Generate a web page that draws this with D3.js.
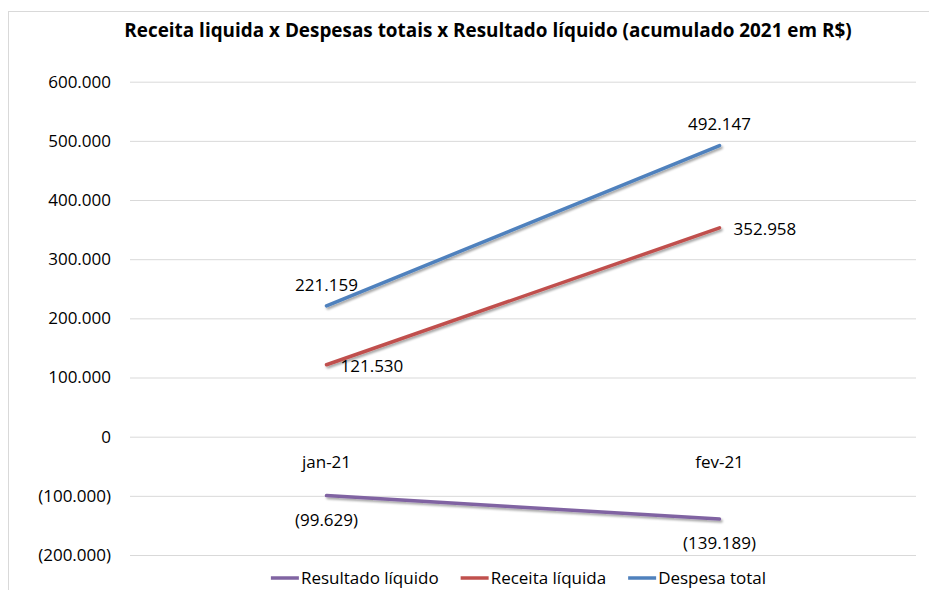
<!DOCTYPE html>
<html>
<head>
<meta charset="utf-8">
<script src="https://cdn.jsdelivr.net/npm/d3@7"></script>
<style>
  body { margin: 0; background: #fff; }
  svg { display: block; font-family: "Open Sans", sans-serif; }
</style>
</head>
<body>
<svg id="chart" width="929" height="590"></svg>
<script>
// data
const categories = ['jan-21', 'fev-21'];
const resultadoLiquido = [-99629, -139189];
const receitaLiquida = [121530, 352958];
const despesaTotal = [221159, 492147];
const yTickValues = [-200000, -100000, 0, 100000, 200000, 300000, 400000, 500000, 600000];

const seriesNames = ['Resultado líquido', 'Receita líquida', 'Despesa total'];
const seriesColors = ['#8064A2', '#C0504D', '#4F81BD'];
const seriesValues = [resultadoLiquido, receitaLiquida, despesaTotal];
const labelPos = ['below', 'right', 'above'];

const svg = d3.select('#chart');
const width = +svg.attr('width');
const margin = { top: 81.7, right: 13, bottom: 35, left: 130 };
const plotBottom = 555;

// shadow like the excel line effect
const defs = svg.append('defs');
const f = defs.append('filter').attr('id', 'shadow')
    .attr('x', '-10%').attr('y', '-50%').attr('width', '120%').attr('height', '200%');
f.append('feDropShadow')
    .attr('dx', 1.5).attr('dy', 2).attr('stdDeviation', 1.2)
    .attr('flood-color', '#000').attr('flood-opacity', 0.35);

// chart border
svg.append('rect')
    .attr('x', 8.5).attr('y', 11.5)
    .attr('width', 1000).attr('height', 700)
    .attr('fill', 'none').attr('stroke', '#d9d9d9');

svg.append('text')
    .attr('x', 488).attr('y', 37)
    .attr('text-anchor', 'middle')
    .attr('font-weight', 'bold')
    .attr('font-size', 18.9)
    .attr('fill', '#000')
    .text('Receita liquida x Despesas totais x Resultado líquido (acumulado 2021 em R$)');

const x = d3.scaleBand()
    .domain(categories)
    .range([margin.left, width - margin.right]);

const y = d3.scaleLinear()
    .domain([-200000, 600000])
    .range([plotBottom, margin.top]);

const fmt = v => {
  if (v === 0) return '0';
  const s = d3.format(',.0f')(Math.abs(v)).replace(/,/g, '.');
  return v < 0 ? `(${s})` : s;
};

const yAxis = svg.append('g')
    .attr('transform', `translate(${margin.left},0)`)
    .call(d3.axisLeft(y)
      .tickValues(yTickValues)
      .tickSize(-(width - margin.right - margin.left))
      .tickPadding(19)
      .tickFormat(fmt));
yAxis.select('.domain').remove();
yAxis.selectAll('line').attr('stroke', '#d9d9d9');
yAxis.selectAll('text')
    .attr('font-size', 17)
    .attr('fill', '#000')
    .attr('font-family', '"Open Sans", sans-serif');

const xAxis = svg.append('g')
    .attr('transform', `translate(0,${y(0)})`)
    .call(d3.axisBottom(x).tickSize(0).tickPadding(19));
xAxis.select('.domain').remove();
xAxis.selectAll('text')
    .attr('font-size', 17)
    .attr('fill', '#000')
    .attr('font-family', '"Open Sans", sans-serif');

const cx = d => x(d) + x.bandwidth() / 2;
const line = d3.line()
    .x(d => cx(d.cat))
    .y(d => y(d.v));

seriesValues.forEach((vals, i) => {
  const pts = vals.map((v, j) => ({ cat: categories[j], v }));
  svg.append('path')
      .datum(pts)
      .attr('d', line)
      .attr('fill', 'none')
      .attr('stroke', seriesColors[i])
      .attr('stroke-width', 3.5)
      .attr('stroke-linecap', 'round')
      .attr('filter', 'url(#shadow)');

  svg.append('g').selectAll('text')
      .data(pts)
    .enter().append('text')
      .attr('font-size', 17)
      .attr('fill', '#000')
      .attr('text-anchor', labelPos[i] === 'right' ? 'start' : 'middle')
      .attr('x', d => labelPos[i] === 'right' ? cx(d.cat) + 14 : cx(d.cat))
      .attr('y', d => {
        const py = y(d.v);
        if (labelPos[i] === 'above') return py - 21;
        if (labelPos[i] === 'below') return py + 24;
        return py + 1;
      })
      .attr('dy', '0.35em')
      .text(d => fmt(d.v));
});

// legend
const legend = svg.append('g');
let lx = 0;
seriesNames.forEach((name, i) => {
  const g = legend.append('g').attr('transform', `translate(${lx},0)`);
  g.append('line')
      .attr('x1', 0).attr('x2', 28)
      .attr('y1', 0).attr('y2', 0)
      .attr('stroke', seriesColors[i])
      .attr('stroke-width', 3.5);
  const t = g.append('text')
      .attr('x', 30).attr('dy', '0.35em')
      .attr('font-size', 17)
      .attr('fill', '#000')
      .text(name);
  lx += 30 + t.node().getComputedTextLength() + 22;
});
lx -= 22;
legend.attr('transform', `translate(${518.5 - lx / 2},578)`);
</script>
</body>
</html>
